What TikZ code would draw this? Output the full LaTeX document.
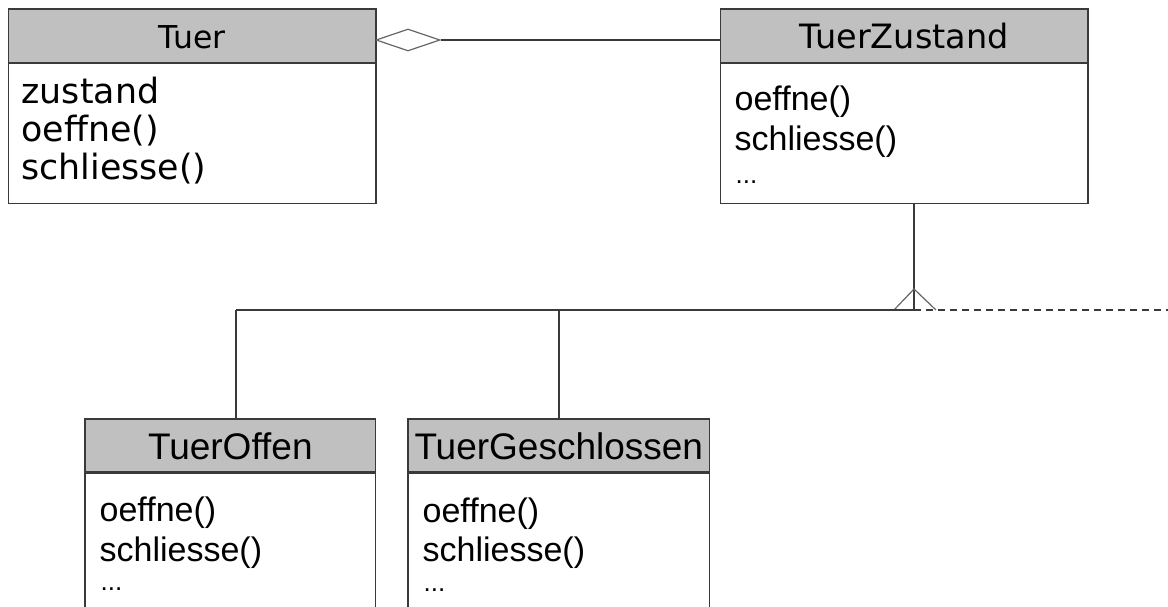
\documentclass[tikz,border=0pt]{standalone}
\usepackage{fontspec}
\newfontfamily\dejavu{DejaVu Sans}
\newfontfamily\arialf{Liberation Sans}
\usetikzlibrary{shapes.geometric}
\definecolor{hdrgray}{HTML}{C0C0C0}
\definecolor{linegray}{HTML}{3A3A3A}
\definecolor{diagray}{HTML}{666666}
\tikzset{
  hdr/.style={draw=linegray, fill=hdrgray, inner sep=0pt, text depth=0pt, anchor=north west},
  bodybox/.style={draw=linegray, fill=white, inner sep=0pt, anchor=north west},
  dvtext/.style={font=\dejavu\fontsize{34.8}{40}\selectfont, inner sep=0pt, anchor=base west},
  artext/.style={font=\arialf\fontsize{34}{40}\selectfont, inner sep=0pt, anchor=base west},
  dots/.style={font=\arialf\fontsize{26}{30}\selectfont, inner sep=0pt, anchor=base west},
  conn/.style={draw=linegray},
}
\begin{document}
\begin{tikzpicture}[x=1pt, y=-1pt, line width=1.3pt]
\clip (0,0) rectangle (1168,607);
\fill[white] (0,0) rectangle (1168,607);

% Tuer
\node[hdr, minimum width=367.6, minimum height=53.4, text height=26.6,
      font=\dejavu\fontsize{31.5}{36}\selectfont] (tuerH) at (7.7,8.3) {Tuer};
\node[bodybox, minimum width=367.6, minimum height=140] (tuerB) at (tuerH.south west) {};
\node[dvtext] (tuer1) at (21,104) {zustand};
\node[dvtext] (tuer2) at (21,142) {oeffne()};
\node[dvtext] (tuer3) at (21,180) {schliesse()};

% TuerZustand
\node[hdr, minimum width=367.3, minimum height=53.4, text height=26.6,
      font=\dejavu\fontsize{33.5}{38}\selectfont] (tzH) at (720,8.3) {TuerZustand};
\node[bodybox, minimum width=367.3, minimum height=140] (tzB) at (tzH.south west) {};
\node[artext] (tz1) at (734,110.5) {oeffne()};
\node[artext] (tz2) at (734,151) {schliesse()};
\node[dots] (tz3) at (735,183) {...};

% TuerOffen
\node[hdr, minimum width=290.7, minimum height=52.7, text height=28.6,
      font=\arialf\fontsize{37}{40}\selectfont] (offH) at (84.3,418.3) {TuerOffen};
\node[bodybox, minimum width=290.7, minimum height=220] (offB) at (offH.south west) {};
\node[artext] (off1) at (99,521.5) {oeffne()};
\node[artext] (off2) at (99,561) {schliesse()};
\node[dots] (off3) at (100,590.5) {...};

% TuerGeschlossen
\node[hdr, minimum width=301.7, minimum height=52.7, text height=28.6,
      font=\arialf\fontsize{37}{40}\selectfont] (gesH) at (407.3,418.3) {TuerGeschlossen};
\node[bodybox, minimum width=301.7, minimum height=220] (gesB) at (gesH.south west) {};
\node[artext] (ges1) at (422,522.5) {oeffne()};
\node[artext] (ges2) at (422,561.5) {schliesse()};
\node[dots] (ges3) at (423,591) {...};

% aggregation
\node[draw=diagray, fill=white, diamond, minimum width=64, minimum height=22,
      inner sep=0pt, line width=1.2pt] (agg) at (408,40) {};
\draw[conn] (agg.east) -- (agg.east -| tzH.west);

% generalization
\coordinate (apex) at (914,289);
\coordinate (tri) at (914,310);
\coordinate (triL) at (894,310);
\coordinate (triR) at (936,310);
\coordinate (joinO) at (236,310);
\coordinate (joinG) at (559,310);
\coordinate (dashend) at (1168,310);
\draw[conn] (tzB.south -| apex) -- (tri);
\draw[draw=diagray, line width=1.2pt] (triL) -- (apex) -- (triR);
\draw[conn] (joinO) -- (tri);
\draw[conn, dash pattern=on 7pt off 5pt] (tri) -- (dashend);
\draw[conn] (joinO) -- (joinO |- offH.north);
\draw[conn] (joinG) -- (joinG |- gesH.north);
\end{tikzpicture}
\end{document}
